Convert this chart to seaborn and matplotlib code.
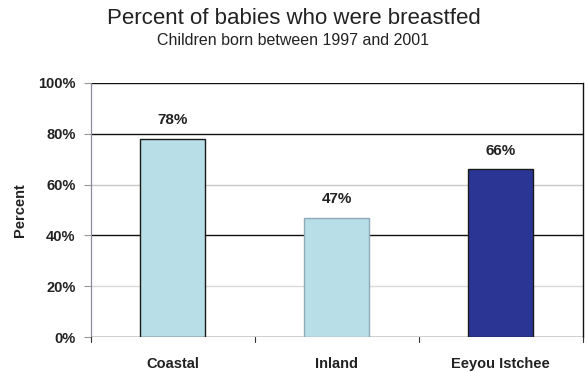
import matplotlib
matplotlib.use("Agg")
import matplotlib.pyplot as plt
import seaborn as sns
from matplotlib.ticker import PercentFormatter

# Data
regions = ["Coastal", "Inland", "Eeyou Istchee"]
breastfed_pct = [78, 47, 66]
bar_colors = ["#B8DFE8", "#B8DFE8", "#2B3694"]
edge_colors = ["#1a1a1a", "#8FA9B8", "#1a1a1a"]
yticks = [0, 20, 40, 60, 80, 100]

sns.set_style("white")
plt.rcParams["font.family"] = ["Liberation Sans", "DejaVu Sans"]
text_col = "#222222"

fig = plt.figure(figsize=(5.85, 3.72), dpi=100)
ax = fig.add_axes([0.155, 0.0933, 0.841, 0.6844])

sns.barplot(x=regions, y=breastfed_pct, hue=regions, palette=bar_colors,
            width=0.4, legend=False, ax=ax, linewidth=1.0, saturation=1)
for patch, ec in zip(ax.patches, edge_colors):
    patch.set_edgecolor(ec)
    patch.set_zorder(3)

# value labels above bars
for i, v in enumerate(breastfed_pct):
    ax.text(i, v + 4.5, f"{v}%", ha="center", va="bottom",
            fontsize=11, fontweight="bold", color=text_col)

ax.set_ylim(0, 100)
ax.set_xlim(-0.5, 2.5)
ax.set_yticks(yticks)
ax.yaxis.set_major_formatter(PercentFormatter(decimals=0))
ax.tick_params(axis="y", length=5, width=0.8, color="#999999", pad=6,
               labelsize=10.5, labelcolor=text_col, left=True)
ax.tick_params(axis="x", length=0, pad=14, labelsize=10.5, labelcolor=text_col)
for lbl in ax.get_yticklabels() + ax.get_xticklabels():
    lbl.set_fontweight("bold")

# category boundary ticks on the x axis
for xb in [-0.5, 0.5, 1.5, 2.5]:
    ax.plot([xb, xb], [0, -2], color="#333333", lw=0.8, clip_on=False, zorder=4)

# horizontal gridlines (some render light in the original)
grid_cols = {0: "#111111", 20: "#d9d9d9", 40: "#111111", 60: "#c8c8c8",
             80: "#111111", 100: "#111111"}
for yv, c in grid_cols.items():
    ax.axhline(yv, color=c, lw=1.0, zorder=1)

for side in ["top", "bottom"]:
    ax.spines[side].set_visible(False)
ax.spines["left"].set_color("#8a8aa0")
ax.spines["right"].set_color("#111111")
ax.spines["left"].set_linewidth(0.9)
ax.spines["right"].set_linewidth(1.0)

ax.set_xlabel("")
ax.set_ylabel("Percent", fontsize=10.5, fontweight="bold", color=text_col,
              labelpad=8)

fig.text(0.503, 0.935, "Percent of babies who were breastfed",
         ha="center", va="baseline", fontsize=16, color=text_col)
fig.text(0.501, 0.879, "Children born between 1997 and 2001",
         ha="center", va="baseline", fontsize=11.5, color=text_col)

fig.savefig("out.png", dpi=100)
